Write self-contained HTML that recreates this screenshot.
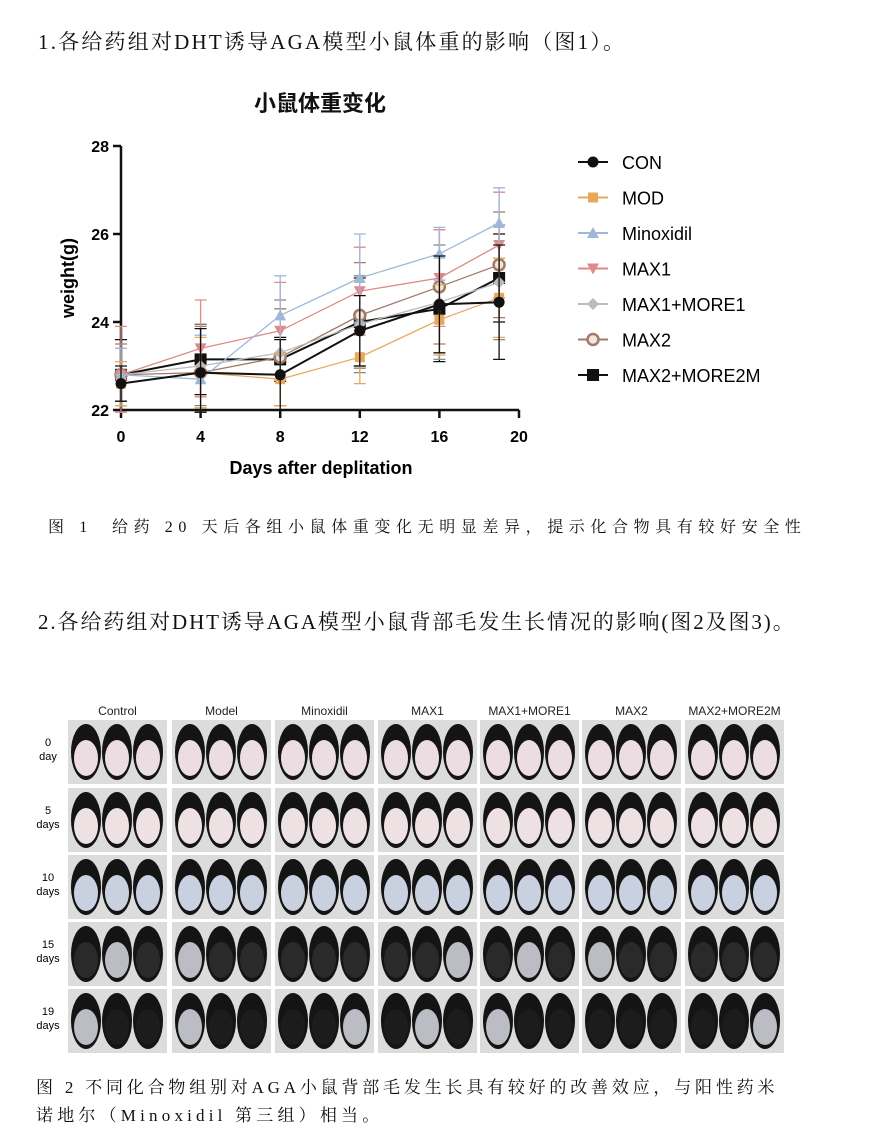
<!DOCTYPE html>
<html><head><meta charset="utf-8"><style>
body{margin:0;background:#fff;width:881px;height:1135px;overflow:hidden;position:relative;font-family:"Liberation Serif","Noto Serif CJK SC",serif;}
.t{position:absolute;color:#111;white-space:nowrap}
</style></head><body>
<div class="t" style="left:38px;top:26px;font-size:21px;letter-spacing:2.2px;">1.各给药组对DHT诱导AGA模型小鼠体重的影响（图1）。</div>
<div class="t" style="left:48px;top:514px;font-size:16px;letter-spacing:5.6px;">图 1 &nbsp;给药 20 天后各组小鼠体重变化无明显差异，提示化合物具有较好安全性</div>
<div class="t" style="left:38px;top:606px;font-size:21px;letter-spacing:1.9px;">2.各给药组对DHT诱导AGA模型小鼠背部毛发生长情况的影响(图2及图3)。</div>
<div class="t" style="left:36px;top:1073px;font-size:17px;letter-spacing:3.8px;">图 2 不同化合物组别对AGA小鼠背部毛发生长具有较好的改善效应，与阳性药米</div>
<div class="t" style="left:36px;top:1101px;font-size:17px;letter-spacing:4.2px;">诺地尔（Minoxidil 第三组）相当。</div>
<svg id="s" width="881" height="1135" style="position:absolute;left:0;top:0" font-family="Liberation Sans, Noto Sans CJK SC, sans-serif"></svg>
<script>
const s=document.getElementById('s');let h='';
h+='<text x="320" y="111" font-size="22" font-weight="bold" text-anchor="middle" fill="#111">小鼠体重变化</text>';
const X=d=>121+d*19.9,Y=v=>410-(v-22)*44;
h+='<path d="M121,146V410H519" stroke="#111" stroke-width="2.5" fill="none"/>';
[22,24,26,28].forEach(v=>{h+=`<line x1="113" x2="121" y1="${Y(v)}" y2="${Y(v)}" stroke="#111" stroke-width="2.5"/><text x="109" y="${Y(v)+6}" font-size="16" font-weight="bold" text-anchor="end">${v}</text>`;});
[0,4,8,12,16,20].forEach(d=>{h+=`<line x1="${X(d)}" x2="${X(d)}" y1="410" y2="418" stroke="#111" stroke-width="2.5"/><text x="${X(d)}" y="442" font-size="16" font-weight="bold" text-anchor="middle">${d}</text>`;});
h+='<text x="321" y="474" font-size="18" font-weight="bold" text-anchor="middle">Days after deplitation</text>';
h+='<text transform="translate(74,278) rotate(-90)" font-size="18" font-weight="bold" text-anchor="middle">weight(g)</text>';
const D=[0,4,8,12,16,19];
const S=[
["CON","#111","c",[22.6,22.85,22.8,23.8,24.4,24.45],[0.4,1.0,0.8,0.8,1.1,1.3]],
["MOD","#e8a85a","s",[22.6,22.85,22.7,23.2,24.05,24.55],[0.5,0.8,0.6,0.6,0.8,0.9]],
["Minoxidil","#9fb8d8","t",[22.8,22.7,24.15,25.0,25.55,26.25],[0.6,1.0,0.9,1.0,0.6,0.8]],
["MAX1","#e08a88","v",[22.8,23.4,23.8,24.7,25.0,25.75],[1.1,1.1,1.1,1.0,1.1,1.2]],
["MAX1+MORE1","#bbb","d",[22.8,23.0,23.3,23.95,24.45,24.9],[0.6,0.9,1.2,1.1,1.3,1.3]],
["MAX2","#a07a6a","o",[22.8,22.85,23.2,24.15,24.8,25.3],[0.7,1.1,1.1,1.2,1.3,1.2]],
["MAX2+MORE2M","#111","q",[22.8,23.15,23.15,24.0,24.3,25.0],[0.8,0.8,0.5,1.0,1.2,1.0]]];
function mk(t,x,y,c){if(t=="c")return `<circle cx="${x}" cy="${y}" r="5.5" fill="${c}"/>`;
if(t=="s")return `<rect x="${x-5}" y="${y-5}" width="10" height="10" fill="${c}"/>`;
if(t=="q")return `<rect x="${x-6}" y="${y-6}" width="12" height="12" fill="${c}"/>`;
if(t=="t")return `<path d="M${x},${y-6}L${x+6},${y+5}L${x-6},${y+5}Z" fill="${c}"/>`;
if(t=="v")return `<path d="M${x},${y+6}L${x+6},${y-5}L${x-6},${y-5}Z" fill="${c}"/>`;
if(t=="d")return `<path d="M${x},${y-6}L${x+6},${y}L${x},${y+6}L${x-6},${y}Z" fill="${c}"/>`;
return `<circle cx="${x}" cy="${y}" r="5.5" fill="#f3e4dc" stroke="${c}" stroke-width="2.5"/>`;}
S.slice().reverse().forEach(([n,c,t,v,e])=>{
 D.forEach((d,i)=>{const x=X(d);const lo=Math.max(21.95,v[i]-e[i]);h+=`<path d="M${x},${Y(lo)}V${Y(v[i]+e[i])}M${x-6},${Y(lo)}h12M${x-6},${Y(v[i]+e[i])}h12" stroke="${c=="#bbb"?"#888":c}" stroke-width="1.3" fill="none"/>`;});
 h+=`<polyline points="${D.map((d,i)=>X(d)+','+Y(v[i])).join(' ')}" stroke="${c}" stroke-width="${c=="#111"?2:1.3}" fill="none"/>`;
 D.forEach((d,i)=>h+=mk(t,X(d),Y(v[i]),c));
});
S.forEach(([n,c,t],i)=>{const y=162+i*35.5;h+=`<line x1="578" x2="608" y1="${y}" y2="${y}" stroke="${c}" stroke-width="2"/>`+mk(t,593,y,c)+`<text x="622" y="${y+7}" font-size="18">${n}</text>`;});
const cols=[68,172,275,378,480,582,685],cw=99,rows=[720,788,855,922,989],rh=64;
const names=["Control","Model","Minoxidil","MAX1","MAX1+MORE1","MAX2","MAX2+MORE2M"];
names.forEach((n,i)=>h+=`<text x="${cols[i]+cw/2}" y="715" font-size="12" text-anchor="middle" fill="#222">${n}</text>`);
const lab=[["0","day"],["5","days"],["10","days"],["15","days"],["19","days"]];
lab.forEach((l,r)=>{h+=`<text x="48" y="${rows[r]+26}" font-size="11" text-anchor="middle">${l[0]}</text><text x="48" y="${rows[r]+40}" font-size="11" text-anchor="middle">${l[1]}</text>`;});
const belly=["#ecdde2","#eee1e4","#c9d0e0","#2a2a2a","#1c1c1c"];
rows.forEach((y,r)=>cols.forEach((x,c)=>{
 h+=`<rect x="${x}" y="${y}" width="${cw}" height="${rh}" fill="#dcdcdc"/>`;
 for(let k=0;k<3;k++){const cx=x+18+k*31;
  h+=`<ellipse cx="${cx}" cy="${y+32}" rx="15" ry="28" fill="#141414"/>`;
  let b=belly[r];if(r>=3&&((r+c+k)%4==0||(c==1&&k==0)))b="#bbbcc4";
  h+=`<ellipse cx="${cx}" cy="${y+38}" rx="12" ry="18" fill="${b}"/>`;}
}));
s.innerHTML=h;
</script>
</body></html>
